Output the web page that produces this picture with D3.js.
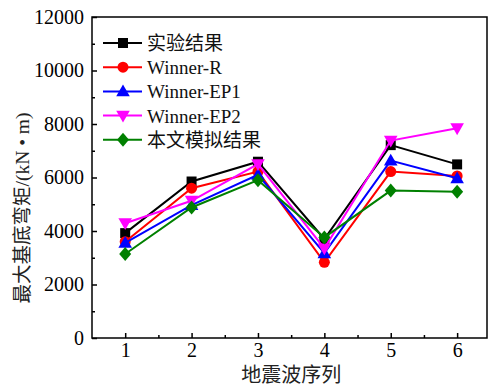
<!DOCTYPE html>
<html>
<head>
<meta charset="utf-8">
<script src="https://cdn.jsdelivr.net/npm/d3@7"></script>
<style>
  body { margin: 0; background: #fff; }
  text { font-family: "Liberation Serif", "Times New Roman", serif; }
  .cjk { font-family: "Noto Sans CJK SC", sans-serif; }
  .lat { font-family: "Liberation Serif", "Times New Roman", serif; }
</style>
</head>
<body>
<div id="chart"></div>
<script>
// data
var waves = [1, 2, 3, 4, 5, 6]
var seriesNames = ["实验结果", "Winner-R", "Winner-EP1", "Winner-EP2", "本文模拟结果"]
var expData = [3920, 5850, 6590, 3700, 7210, 6490]
var winnerR = [3600, 5600, 6220, 2830, 6220, 6060]
var winnerEP1 = [3560, 4970, 6100, 3170, 6630, 5970]
var winnerEP2 = [4290, 5130, 6500, 3350, 7380, 7840]
var simData = [3140, 4880, 5900, 3760, 5510, 5470]
var yTicks = [0, 2000, 4000, 6000, 8000, 10000, 12000]

var colors = ["#000000", "#ff0000", "#0000ff", "#ff00ff", "#008000"]
var shapes = ["square", "circle", "triangle", "triangleDown", "diamond"]
var allSeries = [expData, winnerR, winnerEP1, winnerEP2, simData]

var W = 488, H = 388
var margin = {top: 17, right: 1, bottom: 50, left: 92}
var width = W - margin.left - margin.right,
    height = H - margin.top - margin.bottom

var svg = d3.select("#chart").append("svg")
    .attr("width", W)
    .attr("height", H)

var g = svg.append("g")
    .attr("transform", "translate(" + margin.left + "," + margin.top + ")")

var x = d3.scaleLinear().domain([0.5, 6.45]).range([0, width])
var y = d3.scaleLinear().domain([0, 12000]).range([height, 0])

// axes, ticks pointing inward
var xAxis = g.append("g")
    .attr("transform", "translate(0," + height + ")")
    .call(d3.axisBottom(x).tickValues(waves).tickSize(-5).tickPadding(5).tickFormat(d3.format("d")))

var xMinor = g.append("g")
    .attr("transform", "translate(0," + height + ")")
    .call(d3.axisBottom(x).tickValues([1.5, 2.5, 3.5, 4.5, 5.5]).tickSize(-3).tickFormat(""))

var yAxis = g.append("g")
    .call(d3.axisLeft(y).tickValues(yTicks).tickSize(-5).tickPadding(8).tickFormat(d3.format("d")))

var yMinor = g.append("g")
    .call(d3.axisLeft(y).tickValues(d3.range(1000, 12000, 2000)).tickSize(-3).tickFormat(""))

;[xAxis, xMinor, yAxis, yMinor].forEach(function(a) {
  a.attr("font-family", null)
  a.select(".domain").remove()
  a.selectAll("line").attr("stroke", "#000").attr("stroke-width", 1.5)
  a.selectAll("text").attr("class", "lat").style("font-size", "20px").attr("fill", "#000")
})

// frame
g.append("rect")
    .attr("x", 0).attr("y", 0)
    .attr("width", width).attr("height", height)
    .attr("fill", "none")
    .attr("stroke", "#000")
    .attr("stroke-width", 1.5)

var line = d3.line()
    .x(function(d, i) { return x(waves[i]) })
    .y(function(d) { return y(d) })

function drawMarker(sel, shape, color, cx, cy) {
  if (shape == "square") {
    sel.append("rect").attr("x", cx - 5).attr("y", cy - 5).attr("width", 10).attr("height", 10).attr("fill", color)
  } else if (shape == "circle") {
    sel.append("circle").attr("cx", cx).attr("cy", cy).attr("r", 5.5).attr("fill", color)
  } else if (shape == "triangle") {
    sel.append("path").attr("d", d3.symbol(d3.symbolTriangle, 80)()).attr("transform", "translate(" + cx + "," + (cy + 1) + ")").attr("fill", color)
  } else if (shape == "triangleDown") {
    sel.append("path").attr("d", d3.symbol(d3.symbolTriangle, 80)()).attr("transform", "translate(" + cx + "," + (cy - 1) + ") rotate(180)").attr("fill", color)
  } else {
    sel.append("path").attr("d", "M0,-7L6,0L0,7L-6,0Z").attr("transform", "translate(" + cx + "," + cy + ")").attr("fill", color)
  }
}

allSeries.forEach(function(s, k) {
  g.append("path")
    .datum(s)
    .attr("d", line)
    .attr("fill", "none")
    .attr("stroke", colors[k])
    .attr("stroke-width", 2)
  var mk = g.append("g")
  s.forEach(function(v, i) {
    drawMarker(mk, shapes[k], colors[k], x(waves[i]), y(v))
  })
})

// split text into CJK / latin runs so each gets its own font
function mixedText(t, str) {
  var parts = str.match(/[\u3000-\u9fff]+|[^\u3000-\u9fff]+/g)
  parts.forEach(function(p) {
    t.append("tspan")
      .attr("class", /[\u3000-\u9fff]/.test(p) ? "cjk" : "lat")
      .text(p)
  })
}

// legend
var legend = svg.append("g").attr("transform", "translate(103,43)")
seriesNames.forEach(function(name, k) {
  var row = legend.append("g").attr("transform", "translate(0," + (k * 24.2) + ")")
  row.append("line").attr("x1", 0).attr("x2", 39).attr("y1", 0).attr("y2", 0)
    .attr("stroke", colors[k]).attr("stroke-width", 2)
  drawMarker(row, shapes[k], colors[k], 20, 0)
  var t = row.append("text").attr("x", 44).attr("y", 7)
    .style("font-size", "19px")
    .attr("fill", "#111")
  mixedText(t, name)
})

// axis titles
var xt = svg.append("text")
    .attr("x", margin.left + x(3.5))
    .attr("y", 382)
    .attr("text-anchor", "middle")
    .style("font-size", "20px")
    .attr("fill", "#222")
mixedText(xt, "地震波序列")

var yt = svg.append("text")
    .attr("transform", "translate(29,208) rotate(-90)")
    .attr("text-anchor", "middle")
    .style("font-size", "19.5px")
    .attr("fill", "#222")
mixedText(yt, "最大基底弯矩/(kN • m)")
</script>
</body>
</html>
